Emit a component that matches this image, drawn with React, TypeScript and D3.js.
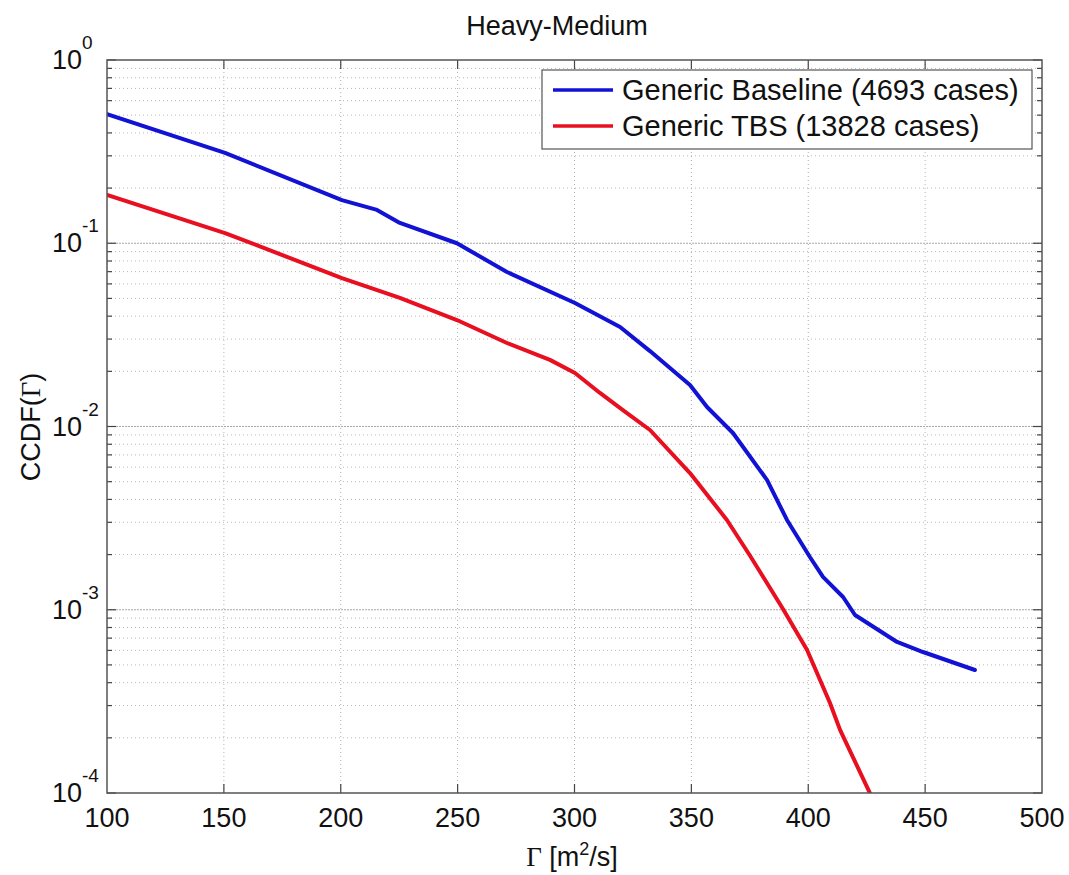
import React, { useEffect } from "react";
import * as d3 from "d3";

// Heavy-Medium CCDF data
const baselineX = [100, 150.5, 200.5, 215.5, 225.3, 249.7, 271.1, 300.2, 319.5, 332.3, 349.4, 356.7, 367.8, 382.4, 390.9, 400.7, 406.3, 414.9, 420, 438, 449.1, 471.3];
const baselineY = [0.507, 0.311, 0.172, 0.152, 0.129, 0.1, 0.0697, 0.0472, 0.0349, 0.0258, 0.01684, 0.01278, 0.00922, 0.0051, 0.00309, 0.00194, 0.00151, 0.001174, 0.000936, 0.000667, 0.000588, 0.000469];

const tbsX = [100, 150.5, 200.5, 225.3, 249.7, 271.1, 289.5, 300.2, 310.9, 320.7, 332.3, 349.4, 365.2, 375.1, 389.2, 399.5, 409.3, 413.6, 426.6];
const tbsY = [0.1834, 0.1137, 0.0646, 0.0503, 0.0381, 0.02855, 0.0231, 0.0196, 0.01524, 0.0123, 0.00957, 0.00557, 0.00309, 0.00197, 0.00101, 0.000603, 0.00031, 0.000221, 0.0000985];

const xTicks = [100, 150, 200, 250, 300, 350, 400, 450, 500];
const yExponents = [0, -1, -2, -3, -4];

const seriesNames = ["Generic Baseline (4693 cases)", "Generic TBS (13828 cases)"];
const seriesColors = ["#1212d4", "#e81020"];

const W = 1069;
const H = 875;
const left = 107, right = 1042, top = 60, bottom = 793;
const sans = "'Liberation Sans', Arial, Helvetica, sans-serif";
const serif = "'Liberation Serif', 'Times New Roman', serif";

export default function App() {
  useEffect(() => {
    document.body.style.margin = "0";
  }, []);

  const x = d3.scaleLinear().domain([100, 500]).range([left, right]);
  const y = d3.scaleLog().domain([1e-4, 1]).range([bottom, top]);

  const line = d3
    .line<[number, number]>()
    .x((d) => x(d[0]))
    .y((d) => y(d[1]));

  const baseline = baselineX.map((v, i) => [v, baselineY[i]] as [number, number]);
  const tbs = tbsX.map((v, i) => [v, tbsY[i]] as [number, number]);

  // minor ticks 2..9 within each decade
  const minor: number[] = [];
  for (let e = -4; e < 0; e++) {
    for (let m = 2; m <= 9; m++) minor.push(m * Math.pow(10, e));
  }

  return (
    <svg width={W} height={H} style={{ display: "block", background: "#fff" }}>
      <defs>
        <clipPath id="plot">
          <rect x={left} y={top} width={right - left} height={bottom - top} />
        </clipPath>
      </defs>

      {/* grid */}
      <g>
        {minor.map((v, i) => (
          <line key={"mn" + i} x1={left} x2={right} y1={y(v)} y2={y(v)} stroke="#b8b8b8" strokeWidth={1} strokeDasharray="1,3" />
        ))}
        {yExponents.slice(1, 4).map((e) => (
          <line key={"mj" + e} x1={left} x2={right} y1={y(Math.pow(10, e))} y2={y(Math.pow(10, e))} stroke="#a8a8a8" strokeWidth={1} strokeDasharray="2,1" />
        ))}
        {xTicks.slice(1, -1).map((t) => (
          <line key={"vx" + t} x1={x(t)} x2={x(t)} y1={top} y2={bottom} stroke="#b0b0b0" strokeWidth={1} strokeDasharray="1,3" />
        ))}
      </g>

      {/* tick marks */}
      <g stroke="#444" strokeWidth={1.2}>
        {xTicks.slice(1, -1).map((t) => (
          <g key={"xt" + t}>
            <line x1={x(t)} x2={x(t)} y1={bottom} y2={bottom - 9} />
            <line x1={x(t)} x2={x(t)} y1={top} y2={top + 9} />
          </g>
        ))}
        {yExponents.map((e) => (
          <g key={"yt" + e}>
            <line x1={left} x2={left + 9} y1={y(Math.pow(10, e))} y2={y(Math.pow(10, e))} />
            <line x1={right} x2={right - 9} y1={y(Math.pow(10, e))} y2={y(Math.pow(10, e))} />
          </g>
        ))}
        {minor.map((v, i) => (
          <g key={"ym" + i}>
            <line x1={left} x2={left + 5} y1={y(v)} y2={y(v)} />
            <line x1={right} x2={right - 5} y1={y(v)} y2={y(v)} />
          </g>
        ))}
      </g>

      {/* curves */}
      <g clipPath="url(#plot)" fill="none" strokeWidth={4} strokeLinejoin="round" strokeLinecap="round">
        <path d={line(baseline) || ""} stroke={seriesColors[0]} />
        <path d={line(tbs) || ""} stroke={seriesColors[1]} />
      </g>

      {/* axes box */}
      <rect x={left} y={top} width={right - left} height={bottom - top} fill="none" stroke="#555" strokeWidth={1.5} />

      {/* x tick labels */}
      <g fontFamily={sans} fontSize={27} fill="#111" textAnchor="middle">
        {xTicks.map((t) => (
          <text key={"xl" + t} x={x(t)} y={827}>
            {t}
          </text>
        ))}
      </g>

      {/* y tick labels */}
      <g fontFamily={sans} fill="#111">
        {yExponents.map((e) => {
          const yy = y(Math.pow(10, e));
          return (
            <g key={"yl" + e}>
              <text x={82} y={yy + 9} fontSize={27} textAnchor="end">10</text>
              <text x={82} y={yy - 11} fontSize={19} textAnchor="start">{e}</text>
            </g>
          );
        })}
      </g>

      {/* title */}
      <text x={557} y={35} fontFamily={sans} fontSize={27} textAnchor="middle" fill="#111">
        Heavy-Medium
      </text>

      {/* x label */}
      <text x={572} y={866} fontFamily={sans} fontSize={27} textAnchor="middle" fill="#111">
        <tspan fontFamily={serif}>Γ</tspan>
        <tspan> [m</tspan>
        <tspan fontSize={18} dy={-11}>2</tspan>
        <tspan dy={11}>/s]</tspan>
      </text>

      {/* y label */}
      <text transform="translate(40,427) rotate(-90)" fontFamily={sans} fontSize={27} textAnchor="middle" fill="#111">
        CCDF(<tspan fontFamily={serif}>Γ</tspan>)
      </text>

      {/* legend */}
      <g>
        <rect x={542} y={70} width={490} height={79} fill="#fff" stroke="#555" strokeWidth={1.2} />
        {seriesNames.map((n, i) => {
          const ly = 90 + i * 36;
          return (
            <g key={n}>
              <line x1={553} x2={613} y1={ly} y2={ly} stroke={seriesColors[i]} strokeWidth={3.5} />
              <text x={622} y={ly + 10} fontFamily={sans} fontSize={29} fill="#111">
                {n}
              </text>
            </g>
          );
        })}
      </g>
    </svg>
  );
}
